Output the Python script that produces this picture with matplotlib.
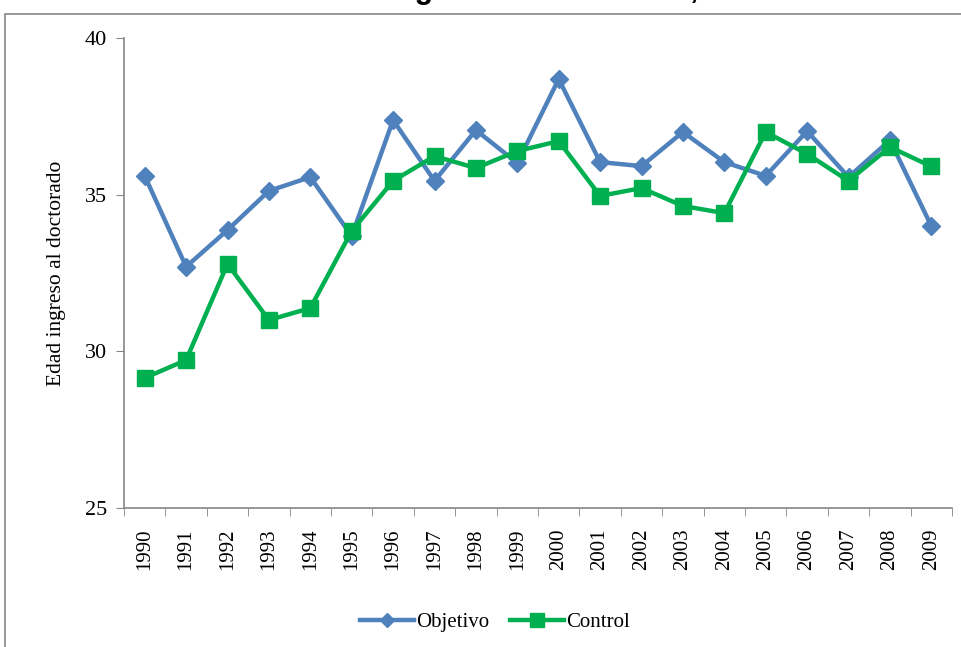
import matplotlib
matplotlib.use("Agg")
import matplotlib.pyplot as plt
from matplotlib.patches import Rectangle

years = [str(y) for y in range(1990, 2010)]
objetivo = [35.6, 32.7, 33.87, 35.12, 35.56, 33.68, 37.38, 35.44, 37.06, 36.01,
            38.69, 36.04, 35.91, 37.0, 36.04, 35.6, 37.03, 35.56, 36.74, 34.0]
control = [29.15, 29.72, 32.79, 31.0, 31.38, 33.84, 35.44, 36.23, 35.85, 36.39,
           36.71, 34.96, 35.21, 34.64, 34.41, 37.0, 36.3, 35.44, 36.52, 35.9]

BLUE = "#4F81BD"
GREEN = "#00B050"
GREY = "#868686"

plt.rcParams["font.family"] = ["Liberation Serif", "DejaVu Serif"]

fig = plt.figure(figsize=(9.61, 6.47), dpi=100)
ax = fig.add_axes([124 / 961, 1 - 508 / 647, (952 - 124) / 961, (508 - 38) / 647])

# outer chart border (runs off the right and bottom edge)
fig.patches.append(Rectangle((5 / 961, -0.1), 1.2, 1 - 14 / 647 + 0.1,
                             transform=fig.transFigure, fill=False,
                             edgecolor=GREY, linewidth=1.2))

# title, mostly cut off at the top of the image
fig.text(0.5, 1 + 2 / 647, "Gráfico 1: Edad de ingreso al doctorado, 1990-2009",
         ha="center", va="baseline", fontsize=22, fontweight="bold",
         family=["Liberation Sans", "DejaVu Sans"])

x = list(range(len(years)))
ax.plot(x, objetivo, color=BLUE, linewidth=3.2, marker="D", markersize=9,
        label="Objetivo")
ax.plot(x, control, color=GREEN, linewidth=3.2, marker="s", markersize=12,
        label="Control")

ax.set_xlim(-0.5, len(years) - 0.5)
ax.set_ylim(25, 40)
ax.set_yticks([25, 30, 35, 40])
ax.set_xticks(x)
ax.set_xticklabels(years, rotation=90, fontsize=15)
ax.set_xticks([i - 0.5 for i in range(len(years) + 1)], minor=True)
ax.tick_params(axis="x", which="major", length=0, pad=15)
ax.tick_params(axis="x", which="minor", length=6, color=GREY)
ax.tick_params(axis="y", length=6, color=GREY, labelsize=16, pad=6)

for side in ["top", "right"]:
    ax.spines[side].set_visible(False)
for side in ["left", "bottom"]:
    ax.spines[side].set_color(GREY)
    ax.spines[side].set_linewidth(1.2)

ax.set_ylabel("Edad ingreso al doctorado", fontsize=15.5, labelpad=14)

fig.legend(loc="center", bbox_to_anchor=(495 / 961, 1 - 622 / 647), ncol=2,
           frameon=False, fontsize=15, handlelength=2.6, handletextpad=0.1,
           columnspacing=1.0, markerscale=0.8)

fig.savefig("out.png", dpi=100)
